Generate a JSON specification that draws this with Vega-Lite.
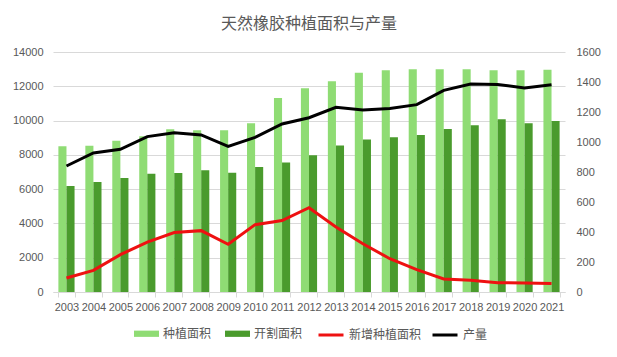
{
  "$schema": "https://vega.github.io/schema/vega-lite/v6.json",
  "width": 512,
  "height": 240,
  "autosize": {"type": "none"},
  "padding": {"left": 53, "top": 52, "right": 52, "bottom": 65},
  "background": "white",
  "title": {"text": "天然橡胶种植面积与产量", "font": "Noto Sans CJK SC", "fontSize": 16, "fontWeight": "normal", "color": "#595959", "offset": 14},
  "config": {"view": {"stroke": null}},
  "datasets": {
    "bars": [
      {"year": "2003", "series": "种植面积", "value": 8500},
      {"year": "2004", "series": "种植面积", "value": 8530},
      {"year": "2005", "series": "种植面积", "value": 8830},
      {"year": "2006", "series": "种植面积", "value": 9080},
      {"year": "2007", "series": "种植面积", "value": 9490},
      {"year": "2008", "series": "种植面积", "value": 9430},
      {"year": "2009", "series": "种植面积", "value": 9430},
      {"year": "2010", "series": "种植面积", "value": 9840},
      {"year": "2011", "series": "种植面积", "value": 11320},
      {"year": "2012", "series": "种植面积", "value": 11880},
      {"year": "2013", "series": "种植面积", "value": 12290},
      {"year": "2014", "series": "种植面积", "value": 12790},
      {"year": "2015", "series": "种植面积", "value": 12930},
      {"year": "2016", "series": "种植面积", "value": 13000},
      {"year": "2017", "series": "种植面积", "value": 13000},
      {"year": "2018", "series": "种植面积", "value": 13000},
      {"year": "2019", "series": "种植面积", "value": 12930},
      {"year": "2020", "series": "种植面积", "value": 12930},
      {"year": "2021", "series": "种植面积", "value": 12970},
      {"year": "2003", "series": "开割面积", "value": 6180},
      {"year": "2004", "series": "开割面积", "value": 6420},
      {"year": "2005", "series": "开割面积", "value": 6650},
      {"year": "2006", "series": "开割面积", "value": 6900},
      {"year": "2007", "series": "开割面积", "value": 6940},
      {"year": "2008", "series": "开割面积", "value": 7100},
      {"year": "2009", "series": "开割面积", "value": 6960},
      {"year": "2010", "series": "开割面积", "value": 7290},
      {"year": "2011", "series": "开割面积", "value": 7560},
      {"year": "2012", "series": "开割面积", "value": 7970},
      {"year": "2013", "series": "开割面积", "value": 8550},
      {"year": "2014", "series": "开割面积", "value": 8900},
      {"year": "2015", "series": "开割面积", "value": 9020},
      {"year": "2016", "series": "开割面积", "value": 9160},
      {"year": "2017", "series": "开割面积", "value": 9510},
      {"year": "2018", "series": "开割面积", "value": 9720},
      {"year": "2019", "series": "开割面积", "value": 10070},
      {"year": "2020", "series": "开割面积", "value": 9840},
      {"year": "2021", "series": "开割面积", "value": 9970}
    ],
    "lines": [
      {"year": "2003", "series": "新增种植面积", "value": 93},
      {"year": "2004", "series": "新增种植面积", "value": 144},
      {"year": "2005", "series": "新增种植面积", "value": 249},
      {"year": "2006", "series": "新增种植面积", "value": 333},
      {"year": "2007", "series": "新增种植面积", "value": 396},
      {"year": "2008", "series": "新增种植面积", "value": 409},
      {"year": "2009", "series": "新增种植面积", "value": 318},
      {"year": "2010", "series": "新增种植面积", "value": 449},
      {"year": "2011", "series": "新增种植面积", "value": 476},
      {"year": "2012", "series": "新增种植面积", "value": 562},
      {"year": "2013", "series": "新增种植面积", "value": 433},
      {"year": "2014", "series": "新增种植面积", "value": 322},
      {"year": "2015", "series": "新增种植面积", "value": 222},
      {"year": "2016", "series": "新增种植面积", "value": 149},
      {"year": "2017", "series": "新增种植面积", "value": 87},
      {"year": "2018", "series": "新增种植面积", "value": 78},
      {"year": "2019", "series": "新增种植面积", "value": 62},
      {"year": "2020", "series": "新增种植面积", "value": 60},
      {"year": "2021", "series": "新增种植面积", "value": 56},
      {"year": "2003", "series": "产量", "value": 840},
      {"year": "2004", "series": "产量", "value": 927},
      {"year": "2005", "series": "产量", "value": 951},
      {"year": "2006", "series": "产量", "value": 1036},
      {"year": "2007", "series": "产量", "value": 1062},
      {"year": "2008", "series": "产量", "value": 1047},
      {"year": "2009", "series": "产量", "value": 971},
      {"year": "2010", "series": "产量", "value": 1031},
      {"year": "2011", "series": "产量", "value": 1120},
      {"year": "2012", "series": "产量", "value": 1162},
      {"year": "2013", "series": "产量", "value": 1231},
      {"year": "2014", "series": "产量", "value": 1213},
      {"year": "2015", "series": "产量", "value": 1224},
      {"year": "2016", "series": "产量", "value": 1249},
      {"year": "2017", "series": "产量", "value": 1344},
      {"year": "2018", "series": "产量", "value": 1387},
      {"year": "2019", "series": "产量", "value": 1384},
      {"year": "2020", "series": "产量", "value": 1360},
      {"year": "2021", "series": "产量", "value": 1382}
    ]
  },
  "layer": [
    {
      "data": {"name": "bars"},
      "mark": {"type": "bar"},
      "encoding": {
        "x": {
          "field": "year", "type": "nominal",
          "scale": {"paddingInner": 0.4, "paddingOuter": 0.2},
          "axis": {"title": null, "labelAngle": 0, "tickBand": "extent", "domainColor": "#D9D9D9", "tickColor": "#D9D9D9", "tickSize": 5, "labelColor": "#595959", "labelFont": "Liberation Sans", "labelFontSize": 11, "labelPadding": 4}
        },
        "xOffset": {"field": "series", "type": "nominal", "sort": ["种植面积", "开割面积"], "scale": {"paddingInner": 0, "paddingOuter": 0}},
        "y": {
          "field": "value", "type": "quantitative",
          "scale": {"domain": [0, 14000], "nice": false},
          "axis": {"title": null, "format": "d", "values": [0, 2000, 4000, 6000, 8000, 10000, 12000, 14000], "grid": true, "gridColor": "#D9D9D9", "domain": false, "ticks": false, "labelPadding": 10, "labelColor": "#595959", "labelFont": "Liberation Sans", "labelFontSize": 11}
        },
        "fill": {
          "field": "series", "type": "nominal",
          "scale": {"domain": ["种植面积", "开割面积"], "range": ["#8FDC74", "#4A9B2D"]},
          "legend": {"title": null, "orient": "none", "legendX": 81, "legendY": 269, "direction": "horizontal", "symbolType": "M-1,-0.25H1V0.25H-1Z", "symbolSize": 625, "symbolStrokeWidth": 0, "symbolOpacity": 1, "labelFont": "Noto Sans CJK SC", "labelFontSize": 12, "labelColor": "#595959", "labelOffset": 4, "columnPadding": 13}
        }
      }
    },
    {
      "data": {"name": "lines"},
      "mark": {"type": "line", "strokeWidth": 3},
      "encoding": {
        "x": {"field": "year", "type": "nominal"},
        "y": {
          "field": "value", "type": "quantitative",
          "scale": {"domain": [0, 1600], "nice": false},
          "axis": {"title": null, "format": "d", "orient": "right", "values": [0, 200, 400, 600, 800, 1000, 1200, 1400, 1600], "grid": false, "domain": false, "ticks": false, "labelPadding": 11, "labelColor": "#595959", "labelFont": "Liberation Sans", "labelFontSize": 11}
        },
        "stroke": {
          "field": "series", "type": "nominal",
          "scale": {"domain": ["新增种植面积", "产量"], "range": ["#EE1111", "#000000"]},
          "legend": {"title": null, "orient": "none", "legendX": 264, "legendY": 269, "direction": "horizontal", "symbolType": "stroke", "symbolSize": 625, "symbolStrokeWidth": 3, "labelFont": "Noto Sans CJK SC", "labelFontSize": 12, "labelColor": "#595959", "labelOffset": 4, "columnPadding": 4}
        }
      }
    }
  ],
  "resolve": {"scale": {"y": "independent"}}
}
